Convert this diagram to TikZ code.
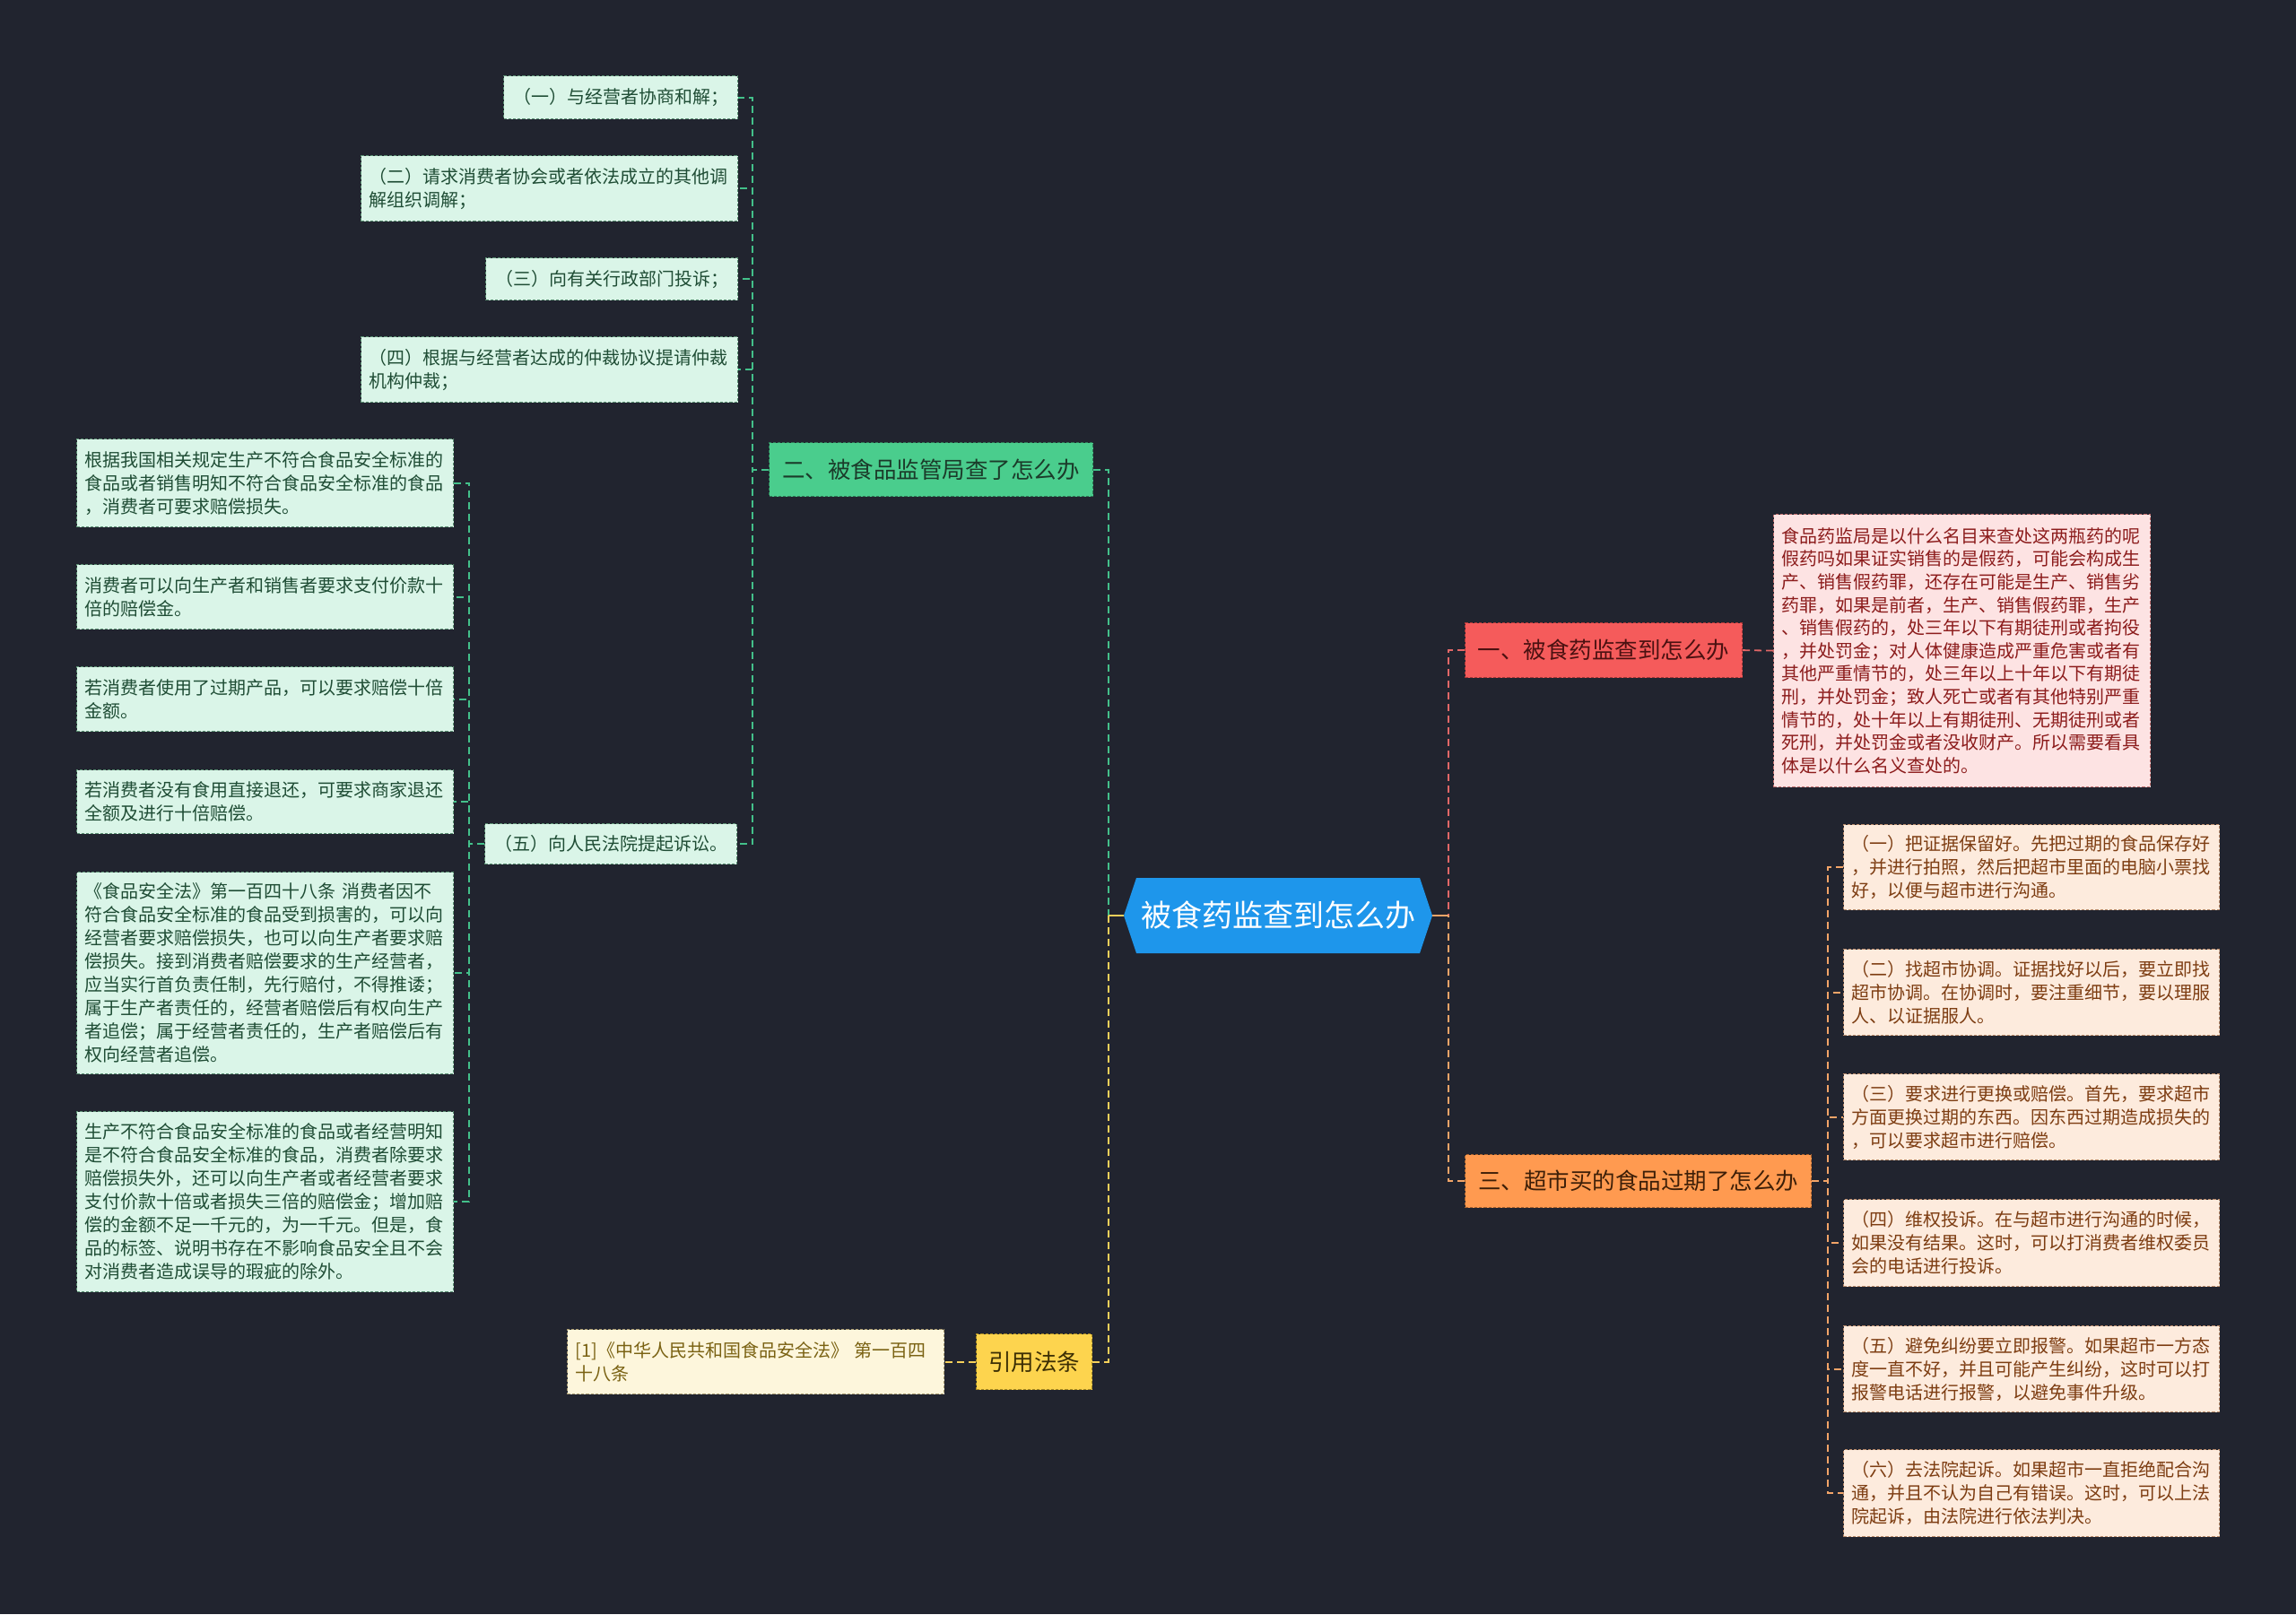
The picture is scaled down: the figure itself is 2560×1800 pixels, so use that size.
\documentclass[tikz,border=0pt]{standalone}
\usepackage{fontspec}
\setmainfont{Noto Sans CJK SC}
\definecolor{bg}{HTML}{21242F}
\definecolor{hexblue}{HTML}{1E96EB}
\definecolor{gB}{HTML}{4ACD8D}
\definecolor{gBT}{HTML}{1B3B2A}
\definecolor{gBD}{HTML}{2E7A55}
\definecolor{gF}{HTML}{DAF5E8}
\definecolor{gT}{HTML}{1F4D35}
\definecolor{gD}{HTML}{5A8F72}
\definecolor{gL}{HTML}{43C08A}
\definecolor{rB}{HTML}{F55B5B}
\definecolor{rBT}{HTML}{4B1111}
\definecolor{rBD}{HTML}{A83838}
\definecolor{rF}{HTML}{FDE3E3}
\definecolor{rT}{HTML}{8C1C1C}
\definecolor{rD}{HTML}{C27070}
\definecolor{rL}{HTML}{E26767}
\definecolor{oB}{HTML}{FF9A50}
\definecolor{oBT}{HTML}{3D1F08}
\definecolor{oBD}{HTML}{A8622E}
\definecolor{oF}{HTML}{FDEBDD}
\definecolor{oT}{HTML}{7D3D12}
\definecolor{oD}{HTML}{B88A6A}
\definecolor{oL}{HTML}{F2A468}
\definecolor{yB}{HTML}{FDD44E}
\definecolor{yBT}{HTML}{3B2E04}
\definecolor{yBD}{HTML}{A88A22}
\definecolor{yF}{HTML}{FDF6DC}
\definecolor{yT}{HTML}{7A6213}
\definecolor{yD}{HTML}{A89A70}
\definecolor{yL}{HTML}{F5D05A}
\tikzset{
  box/.style={draw, dash pattern=on 1.6pt off 1pt, line width=0.6pt, inner xsep=4.5pt, inner ysep=2pt, anchor=north west, font=\fontsize{10}{13}\selectfont},
  multi/.style={text width=201pt, align=left},
  gleaf/.style={box, fill=gF, draw=gD, text=gT},
  rleaf/.style={box, fill=rF, draw=rD, text=rT},
  oleaf/.style={box, fill=oF, draw=oD, text=oT},
  yleaf/.style={box, fill=yF, draw=yD, text=yT},
  branch/.style={box, align=center, font=\fontsize{12.75}{15}\selectfont},
  conn/.style={line width=0.9pt, dash pattern=on 4pt off 2.5pt},
  gline/.style={conn, draw=gL},
  rline/.style={conn, draw=rL},
  oline/.style={conn, draw=oL},
  yline/.style={conn, draw=yL},
}
\begin{document}
\begin{tikzpicture}[x=0.5pt, y=-0.5pt]
\fill[bg] (0,0) rectangle (2560,1800);
\useasboundingbox (0,0) rectangle (2560,1800);

% central hexagon
\fill[hexblue] (1253,1021) -- (1267,979) -- (1583,979) -- (1597,1021) -- (1583,1063) -- (1267,1063) -- cycle;
\node[text=white, font=\fontsize{17}{20}\selectfont] (c) at (1425,1021) {被食药监查到怎么办};
\coordinate (cl) at (1253,1021);
\coordinate (cr) at (1597,1021);
\coordinate (sL) at (1236,1021);
\coordinate (sR) at (1615,1021);

% branches
\node[branch, fill=gB, draw=gBD, text=gBT, minimum width=180.5pt, minimum height=30pt] (b2) at (857,493) {二、被食品监管局查了怎么办};
\node[branch, fill=yB, draw=yBD, text=yBT, minimum width=64.5pt, minimum height=31pt] (bY) at (1088,1487) {引用法条};
\node[branch, fill=rB, draw=rBD, text=rBT, minimum width=154.5pt, minimum height=30.5pt] (b1) at (1633,694) {一、被食药监查到怎么办};
\node[branch, fill=oB, draw=oBD, text=oBT, minimum width=193pt, minimum height=29.5pt] (b3) at (1633,1287) {三、超市买的食品过期了怎么办};

% top-left leaves of 二
\node[gleaf, minimum width=130.5pt, minimum height=24pt, align=center] (t1) at (561,84) {（一）与经营者协商和解；};
\node[gleaf, multi, minimum height=36.5pt] (t2) at (402,173) {（二）请求消费者协会或者依法成立的其他调\\解组织调解；};
\node[gleaf, minimum width=140.5pt, minimum height=23.5pt, align=center] (t3) at (541,287) {（三）向有关行政部门投诉；};
\node[gleaf, multi, minimum height=36.5pt] (t4) at (402,375) {（四）根据与经营者达成的仲裁协议提请仲裁\\机构仲裁；};
\node[gleaf, minimum width=140.5pt, minimum height=22.5pt, align=center] (t5) at (540,918) {（五）向人民法院提起诉讼。};

% leaves of （五）
\node[gleaf, multi, minimum height=49pt] (la) at (85,489) {根据我国相关规定生产不符合食品安全标准的\\食品或者销售明知不符合食品安全标准的食品\\，消费者可要求赔偿损失。};
\node[gleaf, multi, minimum height=36pt] (lb) at (85,629) {消费者可以向生产者和销售者要求支付价款十\\倍的赔偿金。};
\node[gleaf, multi, minimum height=36pt] (lc) at (85,743) {若消费者使用了过期产品，可以要求赔偿十倍\\金额。};
\node[gleaf, multi, minimum height=35.5pt] (ld) at (85,858) {若消费者没有食用直接退还，可要求商家退还\\全额及进行十倍赔偿。};
\node[gleaf, multi, minimum height=112.5pt] (le) at (85,972) {《食品安全法》第一百四十八条 消费者因不\\符合食品安全标准的食品受到损害的，可以向\\经营者要求赔偿损失，也可以向生产者要求赔\\偿损失。接到消费者赔偿要求的生产经营者，\\应当实行首负责任制，先行赔付，不得推诿；\\属于生产者责任的，经营者赔偿后有权向生产\\者追偿；属于经营者责任的，生产者赔偿后有\\权向经营者追偿。};
\node[gleaf, multi, minimum height=100.5pt] (lf) at (85,1239) {生产不符合食品安全标准的食品或者经营明知\\是不符合食品安全标准的食品，消费者除要求\\赔偿损失外，还可以向生产者或者经营者要求\\支付价款十倍或者损失三倍的赔偿金；增加赔\\偿的金额不足一千元的，为一千元。但是，食\\品的标签、说明书存在不影响食品安全且不会\\对消费者造成误导的瑕疵的除外。};

% citation
\node[yleaf, multi, minimum height=36pt] (cit) at (632,1482) {[1]《中华人民共和国食品安全法》 第一百四\\十八条};

% detail of 一
\node[rleaf, multi, minimum height=152pt, font=\fontsize{10}{12.8}\selectfont] (d1) at (1977,573) {食品药监局是以什么名目来查处这两瓶药的呢\\假药吗如果证实销售的是假药，可能会构成生\\产、销售假药罪，还存在可能是生产、销售劣\\药罪，如果是前者，生产、销售假药罪，生产\\、销售假药的，处三年以下有期徒刑或者拘役\\，并处罚金；对人体健康造成严重危害或者有\\其他严重情节的，处三年以上十年以下有期徒\\刑，并处罚金；致人死亡或者有其他特别严重\\情节的，处十年以上有期徒刑、无期徒刑或者\\死刑，并处罚金或者没收财产。所以需要看具\\体是以什么名义查处的。};

% leaves of 三
\node[oleaf, multi, text width=200.5pt, minimum height=47.5pt] (r1) at (2055,919) {（一）把证据保留好。先把过期的食品保存好\\，并进行拍照，然后把超市里面的电脑小票找\\好，以便与超市进行沟通。};
\node[oleaf, multi, text width=200.5pt, minimum height=48pt] (r2) at (2055,1058) {（二）找超市协调。证据找好以后，要立即找\\超市协调。在协调时，要注重细节，要以理服\\人、以证据服人。};
\node[oleaf, multi, text width=200.5pt, minimum height=48pt] (r3) at (2055,1197) {（三）要求进行更换或赔偿。首先，要求超市\\方面更换过期的东西。因东西过期造成损失的\\，可以要求超市进行赔偿。};
\node[oleaf, multi, text width=200.5pt, minimum height=48.5pt] (r4) at (2055,1337) {（四）维权投诉。在与超市进行沟通的时候，\\如果没有结果。这时，可以打消费者维权委员\\会的电话进行投诉。};
\node[oleaf, multi, text width=200.5pt, minimum height=48pt] (r5) at (2055,1478) {（五）避免纠纷要立即报警。如果超市一方态\\度一直不好，并且可能产生纠纷，这时可以打\\报警电话进行报警，以避免事件升级。};
\node[oleaf, multi, text width=200.5pt, minimum height=48.5pt] (r6) at (2055,1616) {（六）去法院起诉。如果超市一直拒绝配合沟\\通，并且不认为自己有错误。这时，可以上法\\院起诉，由法院进行依法判决。};

% connectors: centre
\draw[gline] (b2.east) -| (sL);
\draw[yline] (bY.east) -| (sL);
\draw[yL, line width=0.9pt] (sL) -- (cl);
\draw[rline] (b1.west) -| (sR);
\draw[oline] (b3.west) -| (sR);
\draw[oL, line width=0.9pt] (cr) -- (sR);

% 二 children
\foreach \n in {t1,t2,t3,t4,t5}{
  \draw[gline] (b2.west) -- ++(-18,0) |- (\n.east);
}
% （五） children
\foreach \n in {la,lb,lc,ld,le,lf}{
  \draw[gline] (t5.west) -- ++(-17,0) |- (\n.east);
}
% 一 detail
\draw[rline] (b1.east) -- (d1.west);
% citation
\draw[yline] (bY.west) -- (cit.east);
% 三 children
\foreach \n in {r1,r2,r3,r4,r5,r6}{
  \draw[oline] (b3.east) -- ++(18,0) |- (\n.west);
}
\end{tikzpicture}
\end{document}
